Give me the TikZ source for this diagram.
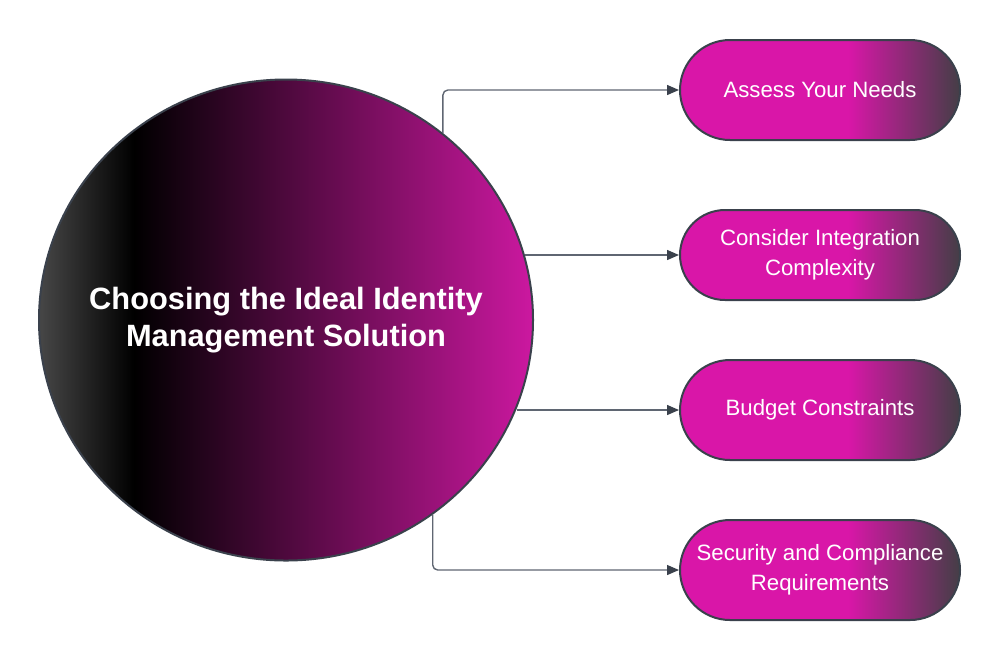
\documentclass[tikz,border=0pt]{standalone}
\usepackage{fontspec}
\setmainfont{Liberation Sans}
\usetikzlibrary{arrows.meta, shapes.geometric}
\definecolor{pillpink}{HTML}{D916A8}
\definecolor{pilldark}{HTML}{443E46}
\definecolor{corepink}{HTML}{CC18A0}
\definecolor{coregrey}{HTML}{474747}
\definecolor{edgegrey}{HTML}{3A414C}
\definecolor{linkgrey}{HTML}{5F6672}
\pgfdeclarehorizontalshading{coreshade}{100bp}{color(0bp)=(coregrey); color(25bp)=(coregrey);
  color(34.6bp)=(black); color(75bp)=(corepink); color(100bp)=(corepink)}
\pgfdeclarehorizontalshading{pillshade}{100bp}{color(0bp)=(pillpink); color(25bp)=(pillpink);
  color(55bp)=(pillpink); color(75bp)=(pilldark); color(100bp)=(pilldark)}
\begin{document}
\begin{tikzpicture}[x = .5pt, y = -.5pt,
    pill/.style = {draw = edgegrey, line width = 1pt, shading = pillshade, text = white,
                   rounded corners = 25pt, minimum width = 140pt, minimum height = 50pt,
                   align = center, font = \fontsize{11.1}{15}\selectfont},
    link/.style = {linkgrey, line width = .7pt, rounded corners = 2.5pt,
                   -{Triangle[length = 6pt, width = 5pt, color = edgegrey]}}]
      \useasboundingbox (0,0) rectangle (1000,660);
      \node [ellipse, draw = edgegrey, line width = 1pt, shading = coreshade,
             minimum width = 247pt, minimum height = 240.5pt, inner sep = 0pt]
        (core) at (286,320) {};
      \node [text = white, align = center, font = \bfseries\fontsize{15.4}{18.5}\selectfont]
        (title) at (core.center) {Choosing the Ideal Identity\\Management Solution};
      \node [pill] (needs) at (820,90) {Assess Your Needs};
      \node [pill, rounded corners = 22.5pt, minimum height = 45pt]
        (integration) at (820,255) {Consider Integration\\Complexity};
      \node [pill] (budget) at (820,410) {Budget Constraints};
      \node [pill] (security) at (820,570) {Security and Compliance\\Requirements};
      \draw [link] (core.50.5) |- (needs.west);
      \draw [link] (integration.west -| core.15.3) -- (integration.west);
      \draw [link] (budget.west -| core.-21.5) -- (budget.west);
      \draw [link] (core.-53.5) |- (security.west);
    \end{tikzpicture}
\end{document}
